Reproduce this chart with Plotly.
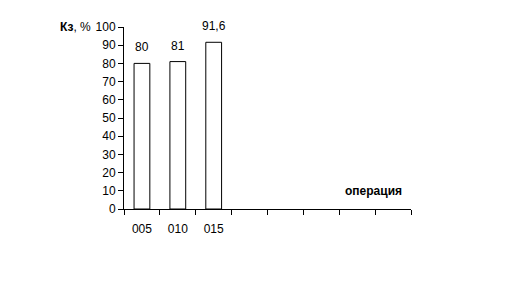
import plotly.graph_objects as go

categories = ["005", "010", "015", " ", "  ", "   ", "    ", "     "]
bar_cats = ["005", "010", "015"]
values = [80, 81, 91.6]
labels = ["80", "81", "91,6"]
y_ticks = [0, 10, 20, 30, 40, 50, 60, 70, 80, 90, 100]

W, H = 526, 284
L, R, T, B = 124, 115, 27, 75

fig = go.Figure()
fig.add_trace(go.Bar(
    x=bar_cats, y=values, width=0.44,
    marker=dict(color="white", line=dict(color="black", width=1)),
    hoverinfo="skip", showlegend=False,
))
for c, v, t in zip(bar_cats, values, labels):
    fig.add_annotation(x=categories.index(c), y=v, text=t, showarrow=False, yanchor="bottom",
                       yshift=7, font=dict(family="Liberation Sans, Arial", size=12, color="black"))

pw = W - L - R
ph = H - T - B
fig.add_annotation(xref="paper", yref="paper", x=(58 - L) / pw, y=1.0,
                   xanchor="left", yanchor="middle", showarrow=False,
                   text="<b>Кз</b>, %", font=dict(family="Liberation Sans, Arial", size=12, color="black"))
fig.add_annotation(xref="paper", yref="paper", x=(404 - L) / pw, y=(209 - 191) / ph,
                   xanchor="right", yanchor="middle", showarrow=False,
                   text="<b>операция</b>", font=dict(family="Liberation Sans Narrow, Liberation Sans, Arial", size=12, color="black"))

fig.update_layout(
    width=W, height=H, margin=dict(l=L, r=R, t=T, b=B, autoexpand=False),
    plot_bgcolor="white", paper_bgcolor="white",
    font=dict(family="Liberation Sans, Arial", size=12, color="black"),
    xaxis=dict(type="category", categoryorder="array", categoryarray=categories,
               range=[-0.5, 7.5], tickson="boundaries", ticks="outside", ticklen=5,
               tickcolor="black", showline=True, linecolor="black", linewidth=1,
               showgrid=False, zeroline=False, ticklabelstandoff=9,
               tickfont=dict(size=12)),
    yaxis=dict(range=[0, 100], tickvals=y_ticks, ticks="outside", ticklen=5,
               tickcolor="black", showline=True, linecolor="black", linewidth=1,
               showgrid=False, zeroline=False, tickfont=dict(size=12)),
)
fig.write_html("out.html")
